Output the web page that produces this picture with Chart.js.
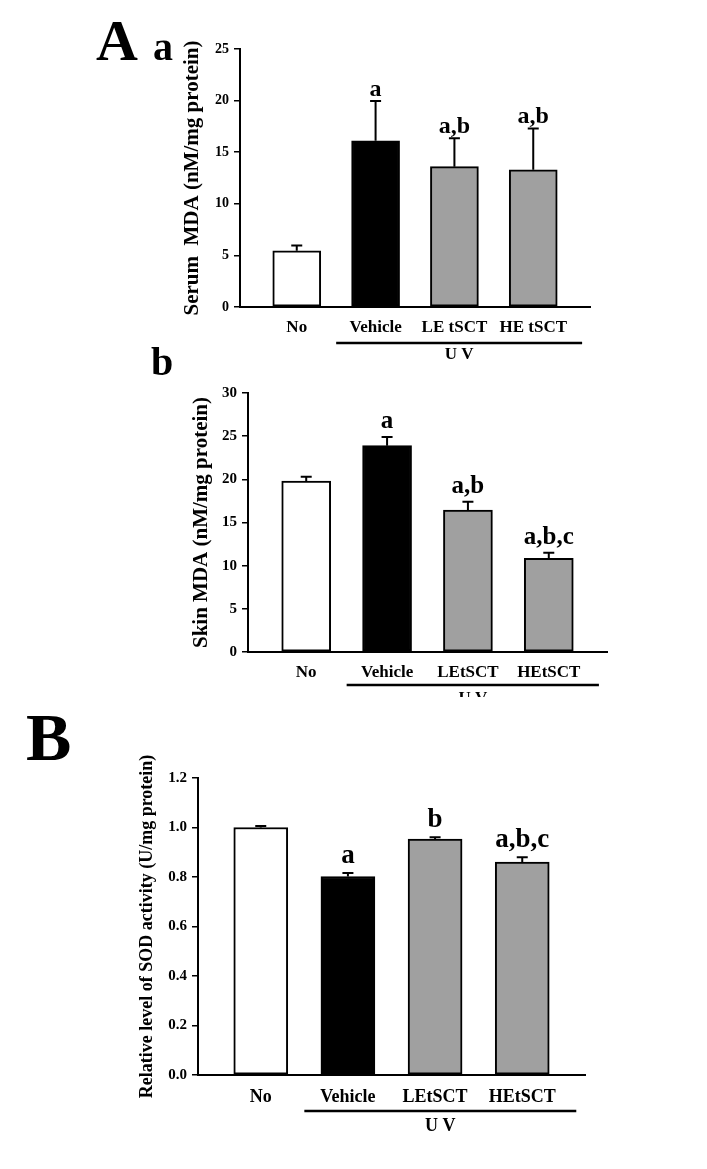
<!DOCTYPE html>
<html>
<head>
<meta charset="utf-8">
<script src="https://cdn.jsdelivr.net/npm/chart.js@4.4.1/dist/chart.umd.min.js"></script>
<style>
  html, body { margin: 0; padding: 0; background: #fff; }
  body { width: 707px; height: 1169px; position: relative; overflow: hidden; }
  canvas { position: absolute; left: 0; }
</style>
</head>
<body>
<canvas id="serum" width="707" height="370" style="top:0px"></canvas>
<canvas id="skin" width="707" height="357" style="top:340px"></canvas>
<canvas id="sod" width="707" height="477" style="top:692px"></canvas>

<script>
// ---- data ----
const serumLabels = ["No", "Vehicle", "LE tSCT", "HE tSCT"];
const serumMda = [5.45, 16.1, 13.6, 13.3];
const serumErr = [0.5, 3.85, 2.75, 4.0];
const serumSig = ["", "a", "a,b", "a,b"];

const skinLabels = ["No", "Vehicle", "LEtSCT", "HEtSCT"];
const skinMda = [19.8, 23.9, 16.45, 10.85];
const skinErr = [0.5, 1.0, 0.95, 0.65];
const skinSig = ["", "a", "a,b", "a,b,c"];

const sodLabels = ["No", "Vehicle", "LEtSCT", "HEtSCT"];
const sodLevel = [1.0, 0.802, 0.953, 0.86];
const sodErr = [0.006, 0.014, 0.008, 0.02];
const sodSig = ["", "a", "b", "a,b,c"];

const barColors = ["#ffffff", "#000000", "#a0a0a0", "#a0a0a0"];

const serif = "'Liberation Serif', 'Times New Roman', serif";

// error bars, significance letters, UV bracket and panel letters
const extras = {
  id: "extras",
  afterDatasetsDraw(chart, args, o) {
    const ctx = chart.ctx;
    const xs = chart.scales.x, ys = chart.scales.y;
    const meta = chart.getDatasetMeta(0);
    ctx.save();
    ctx.strokeStyle = "#000";
    ctx.fillStyle = "#000";
    meta.data.forEach((bar, i) => {
      const top = ys.getPixelForValue(o.values[i] + o.errors[i]);
      ctx.lineWidth = 2;
      ctx.beginPath();
      ctx.moveTo(bar.x, bar.y);
      ctx.lineTo(bar.x, top);
      ctx.moveTo(bar.x - 5.5, top);
      ctx.lineTo(bar.x + 5.5, top);
      ctx.stroke();
      if (o.letters[i]) {
        ctx.font = `bold ${o.letterSize}px ${serif}`;
        ctx.textAlign = "center";
        ctx.textBaseline = "alphabetic";
        ctx.fillText(o.letters[i], bar.x, top - o.letterGap);
      }
    });

    const x1 = xs.getPixelForValue(0.5), x2 = xs.getPixelForValue(3.62);
    const ly = chart.chartArea.bottom + o.uvLine;
    ctx.lineWidth = 2.5;
    ctx.beginPath();
    ctx.moveTo(x1, ly);
    ctx.lineTo(x2, ly);
    ctx.stroke();
    ctx.font = `bold ${o.uvSize}px ${serif}`;
    ctx.textAlign = "center";
    ctx.textBaseline = "middle";
    ctx.fillText("U V", (x1 + x2) / 2, ly + o.uvText);

    o.panels.forEach(p => {
      ctx.font = `bold ${p.size}px ${serif}`;
      ctx.textAlign = "left";
      ctx.textBaseline = "alphabetic";
      ctx.fillText(p.text, p.x, p.y);
    });
    ctx.restore();
  }
};

function makePanel(id, p) {
  const canvas = document.getElementById(id);
  const H = canvas.height;
  const padLeft = p.titleX - (p.titleSize * 0.6 + 4);

  return new Chart(canvas, {
    type: "bar",
    data: {
      datasets: [{
        data: p.values.map((v, i) => ({ x: i, y: v })),
        backgroundColor: barColors,
        borderColor: "#000",
        borderWidth: 2,
        borderSkipped: false,
        barThickness: p.barThickness
      }]
    },
    options: {
      responsive: false,
      animation: false,
      layout: { padding: { left: padLeft, top: p.top, right: 707 - p.right, bottom: 0 } },
      plugins: {
        legend: { display: false },
        tooltip: { enabled: false },
        extras: {
          values: p.values, errors: p.errors, letters: p.letters,
          letterSize: p.letterSize, letterGap: p.letterGap,
          uvLine: p.uvLine, uvText: p.uvText, uvSize: p.catSize,
          panels: p.panels
        }
      },
      scales: {
        x: {
          type: "linear",
          offset: false,
          min: -0.72,
          max: 3.72,
          afterBuildTicks: s => { s.ticks = p.labels.map((c, i) => ({ value: i })); },
          afterFit: s => { s.height = H - p.bottom; },
          grid: { display: false, drawTicks: false },
          border: { display: true, color: "#000", width: 2 },
          ticks: {
            autoSkip: false, maxRotation: 0, minRotation: 0,
            padding: p.labelPad,
            color: "#000",
            font: { family: serif, size: p.catSize, weight: "bold" },
            callback: v => p.labels[v]
          }
        },
        y: {
          min: 0,
          max: p.yMax,
          afterFit: s => { s.width = p.left - padLeft; },
          grid: { drawOnChartArea: false, drawTicks: true, tickLength: 6, color: "#000", lineWidth: 1.5 },
          border: { display: true, color: "#000", width: 2 },
          ticks: {
            stepSize: p.yStep,
            padding: 5,
            color: "#000",
            font: { family: serif, size: p.tickSize, weight: "bold" },
            callback: v => p.decimals ? Number(v).toFixed(p.decimals) : v
          },
          title: {
            display: true,
            text: p.title,
            color: "#000",
            padding: { top: 4, bottom: 4 },
            font: { family: serif, size: p.titleSize, weight: "bold" }
          }
        }
      }
    },
    plugins: [extras]
  });
}

makePanel("serum", {
  labels: serumLabels, values: serumMda, errors: serumErr, letters: serumSig,
  left: 240, right: 590, top: 49, bottom: 307,
  yMax: 25, yStep: 5, tickSize: 14,
  title: "Serum  MDA (nM/mg protein)", titleX: 193, titleSize: 21,
  catSize: 17, labelPad: 10, barThickness: 48,
  letterSize: 24, letterGap: 5, uvLine: 36, uvText: 12,
  panels: [{ text: "A", size: 58, x: 96, y: 60 }, { text: "a", size: 40, x: 153, y: 60 }]
});

makePanel("skin", {
  labels: skinLabels, values: skinMda, errors: skinErr, letters: skinSig,
  left: 248, right: 607, top: 53, bottom: 312,
  yMax: 30, yStep: 5, tickSize: 15,
  title: "Skin MDA (nM/mg protein)", titleX: 202, titleSize: 21,
  catSize: 17, labelPad: 10, barThickness: 49,
  letterSize: 25, letterGap: 9, uvLine: 33, uvText: 14,
  panels: [{ text: "b", size: 40, x: 151, y: 35 }]
});

makePanel("sod", {
  labels: sodLabels, values: sodLevel, errors: sodErr, letters: sodSig,
  left: 198, right: 585, top: 86, bottom: 383,
  yMax: 1.2, yStep: 0.2, tickSize: 15, decimals: 1,
  title: "Relative level of SOD activity (U/mg protein)", titleX: 147, titleSize: 18,
  catSize: 18, labelPad: 12, barThickness: 54,
  letterSize: 27, letterGap: 10, uvLine: 36, uvText: 15,
  panels: [{ text: "B", size: 68, x: 26, y: 68 }]
});
</script>
</body>
</html>
